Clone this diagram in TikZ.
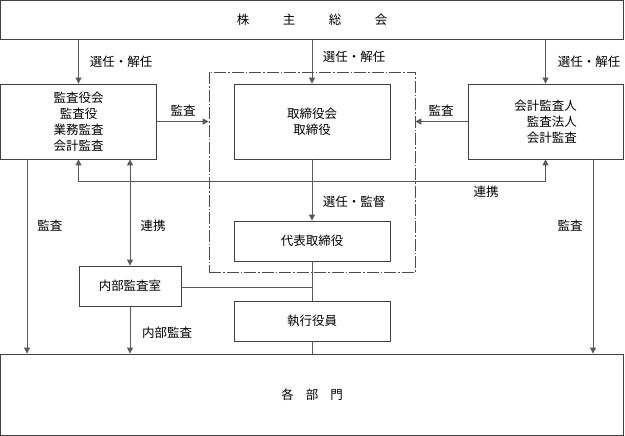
\documentclass[tikz,border=0pt]{standalone}
\usepackage{fontspec}
\setmainfont{Noto Sans CJK JP}
\usetikzlibrary{arrows.meta}
\begin{document}
\begin{tikzpicture}[x=1pt,y=-1pt,
  every node/.style={font=\fontsize{12.5pt}{16pt}\selectfont},
  box/.style={draw=black!75,line width=0.8pt,rectangle,inner sep=0pt,align=center},
  conn/.style={draw=black!65,line width=0.8pt},
  arr/.style={conn,-{Triangle[length=6pt,width=6pt]}},
  biarr/.style={conn,{Triangle[length=6pt,width=6pt]}-{Triangle[length=6pt,width=6pt]}},
  lbl/.style={inner sep=0pt},
  frame/.style={draw=black!70,line width=0.7pt,dash pattern=on 12pt off 2pt on 1.5pt off 2pt}
]
\useasboundingbox (0,0) rectangle (625,436);
% boxes
\node[box,minimum width=623pt,minimum height=39pt] (gm) at (312,20) {株\hspace{33.5pt}主\hspace{33.5pt}総\hspace{33.5pt}会};
\node[box,minimum width=156pt,minimum height=75pt] (kansa) at (78.5,121.5) {監査役会\\監査役\\業務監査\\会計監査};
\node[box,minimum width=156pt,minimum height=75pt] (tori) at (312,121.5) {取締役会\\取締役};
\node[box,minimum width=155pt,minimum height=75pt] (kaikei) at (545.5,121.5) {会計監査人\\\phantom{会}監査法人\\\phantom{会}会計監査};
\node[box,minimum width=156pt,minimum height=40pt] (daihyo) at (312,241) {代表取締役};
\node[box,minimum width=156pt,minimum height=40pt] (shikko) at (312,321) {執行役員};
\node[box,minimum width=102pt,minimum height=40pt] (naibu) at (130,286) {内部監査室};
\node[box,minimum width=623pt,minimum height=81pt] (bumon) at (312,394.5) {各\hspace{12pt}部\hspace{12pt}門};
% dashed frame
\node[frame,minimum width=206pt,minimum height=200pt,inner sep=0pt] (fr) at (312,172) {};
% coordinates
\coordinate (ry) at (0,181);
\coordinate (lx) at (27,0);
\coordinate (rx) at (593,0);
\coordinate (ny) at (0,287);
% connectors
\draw[arr] (gm.south -| kansa.north) -- (kansa.north);
\draw[arr] (gm.south -| tori.north) -- (tori.north);
\draw[arr] (gm.south -| kaikei.north) -- (kaikei.north);
\draw[arr] (kansa.east) -- (kansa.east -| fr.west);
\draw[arr] (kaikei.west) -- (kaikei.west -| fr.east);
\draw[biarr] (kansa.south) -- (kansa.south |- ry) -- (kaikei.south |- ry) -- (kaikei.south);
\draw[arr] (tori.south) -- (daihyo.north);
\draw[conn] (daihyo.south) -- (shikko.north);
\draw[conn] (shikko.south) -- (bumon.north);
\draw[conn] (naibu.east |- ny) -- (daihyo.south |- ny);
\draw[biarr] (kansa.south -| naibu.north) -- (naibu.north);
\draw[arr] (naibu.south) -- (naibu.south |- bumon.north);
\draw[arr] (kansa.south -| lx) -- (bumon.north -| lx);
\draw[arr] (kaikei.south -| rx) -- (bumon.north -| rx);
% labels
\node[lbl] (l1) at (121,62) {選任・解任};
\node[lbl] (l2) at (354,57) {選任・解任};
\node[lbl] (l3) at (589,62) {選任・解任};
\node[lbl] (l4) at (183,111) {監査};
\node[lbl] (l5) at (441,111) {監査};
\node[lbl] (l6) at (486,192) {連携};
\node[lbl] (l7) at (354,202) {選任・監督};
\node[lbl] (l8) at (50,226) {監査};
\node[lbl] (l9) at (153,226) {連携};
\node[lbl] (l10) at (570,226) {監査};
\node[lbl] (l11) at (167,333) {内部監査};
\end{tikzpicture}
\end{document}
